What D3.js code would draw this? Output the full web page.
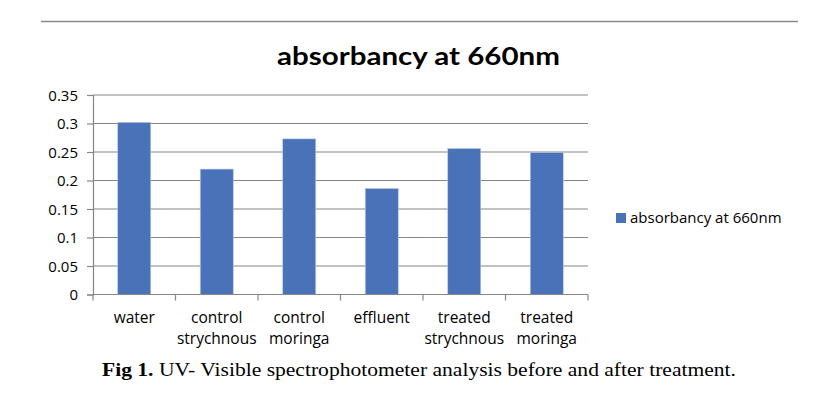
<!DOCTYPE html>
<html lang="en">
<head>
  <meta charset="UTF-8">
  <title>absorbancy at 660nm</title>
  <script src="https://d3js.org/d3.v7.min.js"></script>
  <style>
    body {
      margin: 0;
      background: #fff;
    }
    svg text { fill: #000; }
  </style>
</head>
<body>
  <div id="chart"></div>

  <script>
    // data
    const categories = [
      ["water"],
      ["control", "strychnous"],
      ["control", "moringa"],
      ["effluent"],
      ["treated", "strychnous"],
      ["treated", "moringa"]
    ];
    const values = [0.302, 0.22, 0.273, 0.186, 0.256, 0.249];
    const yTicks = [0, 0.05, 0.1, 0.15, 0.2, 0.25, 0.3, 0.35];
    const seriesName = "absorbancy at 660nm";
    const caption = "UV- Visible spectrophotometer analysis before and after treatment.";

    const width = 826, height = 403;
    const plot = { left: 93, right: 588, top: 95, bottom: 294.5 };

    const svg = d3.select("#chart").append("svg")
      .attr("width", width)
      .attr("height", height);

    // rule at top of page
    svg.append("line")
      .attr("x1", 41).attr("x2", 798)
      .attr("y1", 21.5).attr("y2", 21.5)
      .attr("stroke", "#8a8a8a")
      .attr("stroke-width", 1.5);

    // title
    svg.append("text")
      .attr("x", 277).attr("y", 64.5)
      .attr("textLength", 283)
      .attr("lengthAdjust", "spacingAndGlyphs")
      .style("font-family", "Lato, 'Open Sans', sans-serif")
      .style("font-weight", "bold")
      .style("font-size", "25px")
      .text(seriesName);

    const x = d3.scaleBand()
      .domain(d3.range(categories.length))
      .range([plot.left, plot.right])
      .paddingInner(0.6)
      .paddingOuter(0.3);

    const xStep = d3.scaleLinear()
      .domain([0, categories.length])
      .range([plot.left, plot.right]);

    const y = d3.scaleLinear()
      .domain([0, 0.35])
      .range([plot.bottom, plot.top]);

    // y axis + ticks
    const yAxis = svg.append("g")
      .attr("transform", `translate(${plot.left},0)`)
      .call(d3.axisLeft(y)
        .tickValues(yTicks)
        .tickSize(6)
        .tickPadding(9)
        .tickFormat(d => d3.format("")(+d.toFixed(2))));
    yAxis.select(".domain").attr("stroke", "#868686").attr("stroke-width", 1.2);
    yAxis.selectAll(".tick line").attr("stroke", "#868686").attr("stroke-width", 1.2);
    yAxis.selectAll(".tick text")
      .style("font-family", "'Open Sans', Lato, sans-serif")
      .style("font-size", "15px")
      .attr("dy", "0.35em");

    // gridlines
    svg.append("g")
      .selectAll("line")
      .data(yTicks.filter(d => d > 0))
      .join("line")
      .attr("x1", plot.left).attr("x2", plot.right)
      .attr("y1", d => y(d)).attr("y2", d => y(d))
      .attr("stroke", "#868686")
      .attr("stroke-width", 1.2);

    // bars
    svg.append("g")
      .selectAll("rect")
      .data(values)
      .join("rect")
      .attr("x", (d, i) => x(i))
      .attr("width", x.bandwidth())
      .attr("y", d => y(d))
      .attr("height", d => y(0) - y(d))
      .attr("fill", "#4a72b8")
      .attr("stroke", "#b9c9e6")
      .attr("stroke-width", 0.6);

    // x axis line + ticks
    svg.append("line")
      .attr("x1", plot.left).attr("x2", plot.right)
      .attr("y1", y(0)).attr("y2", y(0))
      .attr("stroke", "#868686").attr("stroke-width", 1.2);
    svg.append("g")
      .selectAll("line")
      .data(d3.range(categories.length + 1))
      .join("line")
      .attr("x1", d => xStep(d)).attr("x2", d => xStep(d))
      .attr("y1", y(0)).attr("y2", y(0) + 6)
      .attr("stroke", "#868686").attr("stroke-width", 1.2);

    // category labels
    const labels = svg.append("g")
      .selectAll("text")
      .data(categories)
      .join("text")
      .attr("text-anchor", "middle")
      .attr("x", (d, i) => x(i) + x.bandwidth() / 2)
      .attr("y", 323)
      .style("font-family", "'Open Sans', Lato, sans-serif")
      .style("font-size", "15.5px");
    labels.selectAll("tspan")
      .data(d => d)
      .join("tspan")
      .attr("x", function () { return d3.select(this.parentNode).attr("x"); })
      .attr("dy", (d, i) => i === 0 ? 0 : 20.5)
      .text(d => d);

    // legend
    svg.append("rect")
      .attr("x", 616).attr("y", 213)
      .attr("width", 10).attr("height", 10)
      .attr("fill", "#4a72b8");
    svg.append("text")
      .attr("x", 630).attr("y", 223)
      .style("font-family", "'Open Sans', Lato, sans-serif")
      .style("font-size", "15px")
      .text(seriesName);

    // figure caption
    const cap = svg.append("text")
      .attr("x", 102).attr("y", 376)
      .attr("textLength", 634)
      .attr("lengthAdjust", "spacingAndGlyphs")
      .style("font-family", "'Liberation Serif', serif")
      .style("font-size", "18.5px");
    cap.append("tspan").style("font-weight", "bold").text("Fig 1. ");
    cap.append("tspan").text(caption);
  </script>
</body>
</html>
